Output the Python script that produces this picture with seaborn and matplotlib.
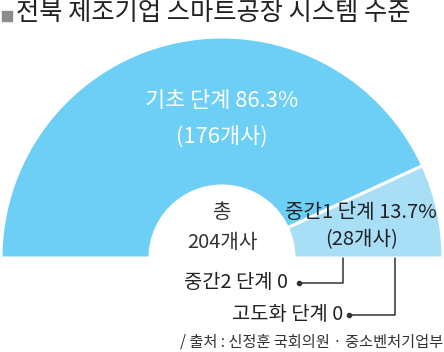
import matplotlib
matplotlib.use("Agg")
import matplotlib.pyplot as plt
import seaborn as sns

sns.set_theme(style="white")
plt.rcParams['font.family'] = ['Noto Sans CJK KR', 'DejaVu Sans']

# Data
categories = ["기초 단계", "중간1 단계", "중간2 단계", "고도화 단계"]
counts = [176, 28, 0, 0]
colors = ["#6DCFF6", "#A9DEF7", "#8FD3F3", "#5BBDE8"]
title = "전북 제조기업 스마트공장 시스템 수준"
source = "/ 출처 : 신정훈 국회의원 · 중소벤처기업부"

total = sum(counts)
W, H = 444, 352
fig = plt.figure(figsize=(W / 100, H / 100), dpi=100)
ax = fig.add_axes([0, 0, 1, 1])

def Y(y):
    return H - y

cx, cy = 222, 258
R, r = 221, 72

nz = [(c, v, col) for c, v, col in zip(categories, counts, colors) if v > 0]
fracs = [v / total * 0.5 for _, v, _ in nz]
ax.pie(fracs, colors=[col for _, _, col in nz], startangle=180, counterclock=False,
       normalize=False, center=(cx, Y(cy)), radius=R,
       wedgeprops=dict(width=R - r, edgecolor="white", linewidth=2.2))

ax.set_xlim(0, W)
ax.set_ylim(0, H)
ax.set_aspect("equal")
ax.axis("off")

pct = [v / total * 100 for v in counts]

# main slice labels
ax.text(222, Y(101), f"{categories[0]} {pct[0]:.1f}%", color="white", fontsize=15.8,
        ha="center", va="center")
ax.text(222, Y(138), f"({counts[0]}개사)", color="white", fontsize=15.8,
        ha="center", va="center")

# second slice labels
ax.text(361, Y(212), f"{categories[1][:3]} 단계 {pct[1]:.1f}%", color="#222222", fontsize=14.5,
        ha="center", va="center")
ax.text(362, Y(240), f"({counts[1]}개사)", color="#222222", fontsize=14.5,
        ha="center", va="center")

# center
ax.text(222, Y(213), "총", color="#333333", fontsize=14.5, ha="center", va="center")
ax.text(222, Y(243), f"{total}개사", color="#333333", fontsize=14.5, ha="center", va="center")

# zero categories with leader lines
lead = [(288, 283, 299, 343), (343, 315, 349, 395)]
for (c, v), (tx, ty, dx, lx) in zip(list(zip(categories, counts))[2:], lead):
    ax.text(tx, Y(ty), f"{c} {v}", color="#222222", fontsize=14.3, ha="right", va="center")
    ax.plot([dx, lx, lx], [Y(ty), Y(ty), Y(258)], color="#333333", lw=1.1)
    ax.plot([dx], [Y(ty)], "o", color="#333333", ms=3)

# title
ax.add_patch(plt.Rectangle((2, Y(21)), 10, 10, color="#8a8a8a"))
ax.text(16, Y(13), title, color="#222222", fontsize=18.2, ha="left", va="center")

# source
ax.text(443, Y(342), source, color="#333333", fontsize=11, ha="right", va="center")

fig.savefig("out.png", dpi=100)
